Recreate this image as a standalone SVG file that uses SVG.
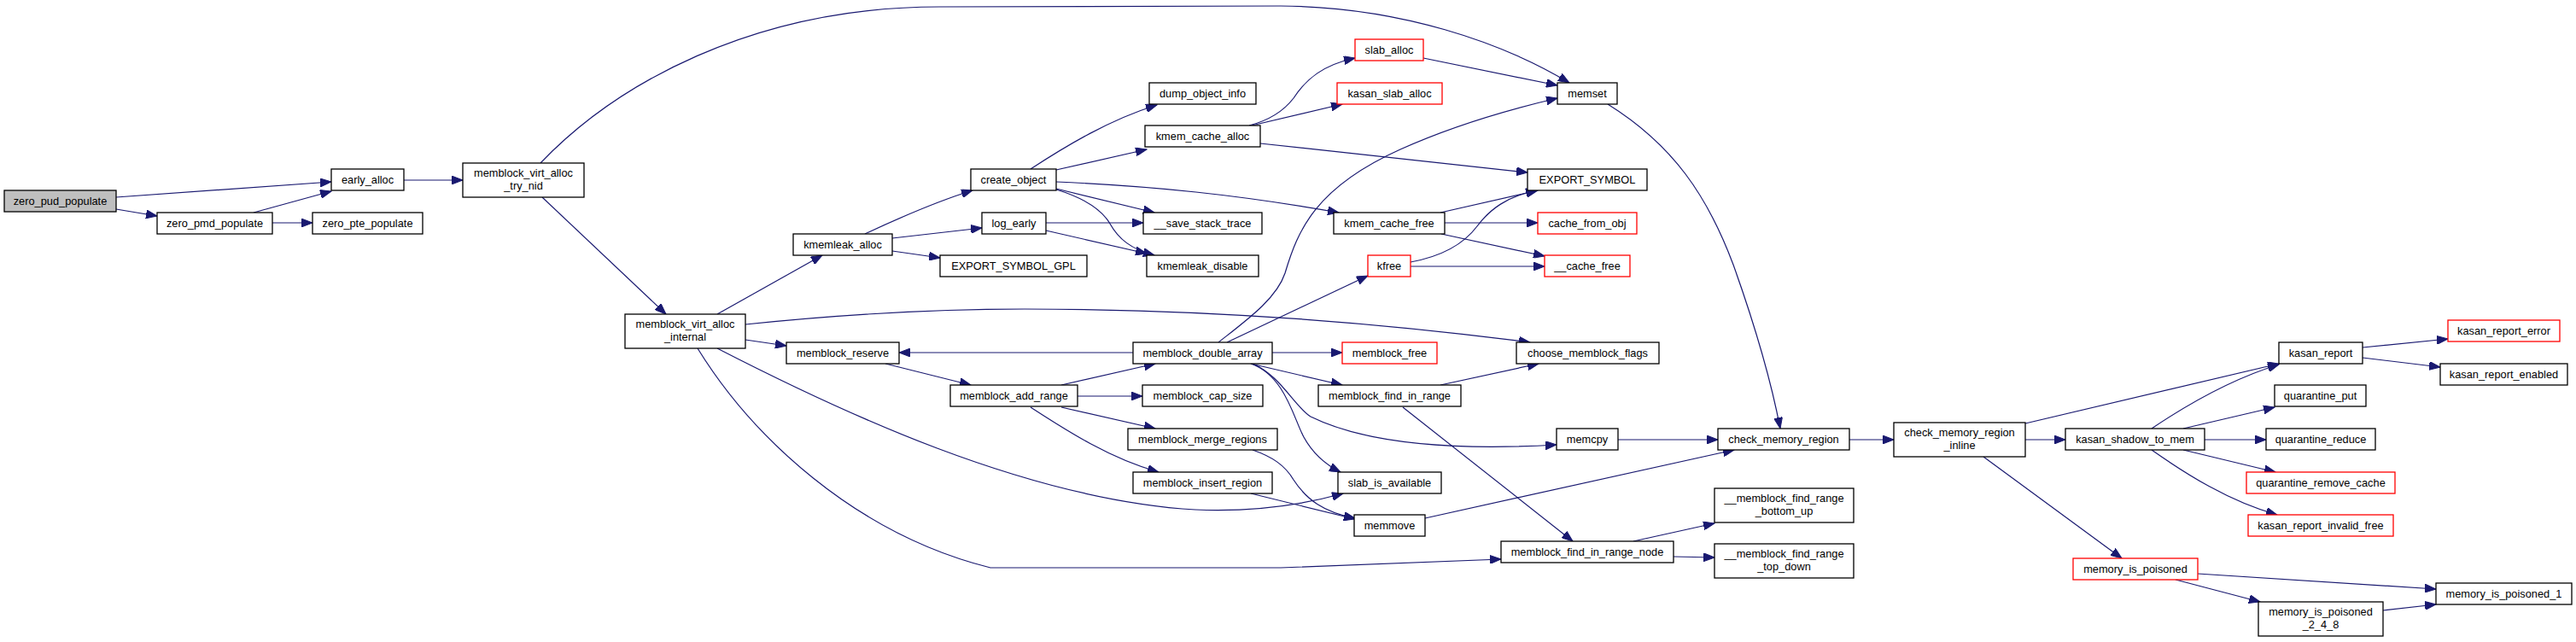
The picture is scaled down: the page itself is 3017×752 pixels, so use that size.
<svg xmlns="http://www.w3.org/2000/svg" width="3017" height="752" viewBox="0 0 3017 752">
<style>
.nd rect{fill:#ffffff;stroke:#000000;stroke-width:1.3}
.nd.red rect{stroke:#ff0000}
.nd.root rect{fill:#bfbfbf}
.nd text{font-family:"Liberation Sans",Arial,Helvetica,sans-serif;font-size:12.8px;text-anchor:middle;fill:#000000}
.ed path{fill:none;stroke:#191970;stroke-width:1.2;marker-end:url(#ah)}
</style>
<defs>
<marker id="ah" markerUnits="userSpaceOnUse" markerWidth="14" markerHeight="10" refX="13" refY="5" orient="auto">
<path d="M0,0 L13,5 L0,10 z" fill="#191970" stroke="#191970" stroke-width="1"/>
</marker>
</defs>
<rect width="3017" height="752" fill="#ffffff"/>
<g id="edges" class="ed">
<path d="M136,231 L388,213"/>
<path d="M136,245 L184,253"/>
<path d="M297,249 L388,224"/>
<path d="M319,261 L366,261"/>
<path d="M473,211 L542,211"/>
<path d="M633,191 C720,100 880,8 1100,8 L1500,7 C1640,8 1760,50 1838,97"/>
<path d="M635,231 L780,368"/>
<path d="M840,368 L963,299"/>
<path d="M873,380 C950,372 1060,362 1200,362 C1400,362 1600,376 1792,401"/>
<path d="M873,398 L921,405"/>
<path d="M840,408 C980,480 1200,585 1400,597 C1470,600 1530,590 1573,578"/>
<path d="M817,408 C880,510 1000,625 1160,665 L1500,665 L1758,655"/>
<path d="M1013,274 C1060,252 1100,235 1139,223"/>
<path d="M1045,279 L1150,267"/>
<path d="M1045,294 L1101,302"/>
<path d="M1207,198 C1250,170 1300,140 1355,123"/>
<path d="M1237,199 L1343,175"/>
<path d="M1237,213 C1350,218 1450,228 1568,249"/>
<path d="M1237,221 L1352,249"/>
<path d="M1237,222 C1270,232 1290,245 1300,262 C1310,280 1325,292 1352,299"/>
<path d="M1225,261 L1339,261"/>
<path d="M1225,270 L1343,297"/>
<path d="M1463,147 C1490,140 1505,128 1515,115 C1530,92 1550,76 1587,68"/>
<path d="M1466,147 L1572,122"/>
<path d="M1476,168 L1789,202"/>
<path d="M1667,68 L1824,100"/>
<path d="M1883,122 C1960,170 2000,230 2030,310 C2055,380 2075,450 2085,502"/>
<path d="M1037,426 L1137,451"/>
<path d="M1327,413 L1053,413"/>
<path d="M1243,451 L1353,426"/>
<path d="M1262,464 L1338,464"/>
<path d="M1243,477 L1353,502"/>
<path d="M1207,477 C1250,505 1300,537 1357,553"/>
<path d="M1427,401 C1460,375 1495,350 1505,320 C1520,270 1540,220 1640,175 C1700,148 1760,130 1824,115"/>
<path d="M1437,401 L1602,323"/>
<path d="M1490,413 L1572,413"/>
<path d="M1465,426 L1572,451"/>
<path d="M1467,426 C1500,440 1515,475 1535,488 C1600,520 1700,528 1823,521"/>
<path d="M1465,426 C1505,440 1515,490 1527,512 C1538,532 1552,544 1570,553"/>
<path d="M1467,527 C1490,535 1505,545 1515,562 C1530,585 1550,600 1587,607"/>
<path d="M1465,578 L1587,608"/>
<path d="M1687,451 L1802,426"/>
<path d="M1643,477 L1842,634"/>
<path d="M1895,515 L2012,515"/>
<path d="M1669,607 L2031,527"/>
<path d="M1913,634 L2008,613"/>
<path d="M1960,652 L2008,653"/>
<path d="M1687,249 L1801,223"/>
<path d="M1692,261 L1801,261"/>
<path d="M1688,274 L1809,300"/>
<path d="M1652,307 C1690,300 1715,285 1730,265 C1745,245 1765,230 1800,223"/>
<path d="M1652,312 L1809,312"/>
<path d="M2166,515 L2218,515"/>
<path d="M2372,496 L2669,426"/>
<path d="M2372,515 L2419,515"/>
<path d="M2323,535 L2485,654"/>
<path d="M2520,502 C2560,475 2610,445 2669,427"/>
<path d="M2557,502 L2664,477"/>
<path d="M2582,515 L2654,515"/>
<path d="M2557,527 L2665,553"/>
<path d="M2520,527 C2560,555 2610,587 2667,603"/>
<path d="M2767,407 L2867,397"/>
<path d="M2767,419 L2858,430"/>
<path d="M2574,672 L2853,690"/>
<path d="M2548,679 L2647,705"/>
<path d="M2791,715 L2853,708"/>
</g>
<g id="node-zero_pud_populate" class="nd root"><rect x="5" y="223" width="131" height="25"/><text x="70.5" y="240">zero_pud_populate</text></g>
<g id="node-early_alloc" class="nd"><rect x="388" y="198" width="85" height="25"/><text x="430.5" y="215">early_alloc</text></g>
<g id="node-zero_pmd_populate" class="nd"><rect x="184" y="249" width="135" height="25"/><text x="251.5" y="266">zero_pmd_populate</text></g>
<g id="node-zero_pte_populate" class="nd"><rect x="366" y="249" width="129" height="25"/><text x="430.5" y="266">zero_pte_populate</text></g>
<g id="node-memblock_virt_alloc_try_nid" class="nd"><rect x="542" y="191" width="142" height="40"/><text x="613" y="207">memblock_virt_alloc</text><text x="613" y="222">_try_nid</text></g>
<g id="node-memset" class="nd"><rect x="1824" y="97" width="70" height="25"/><text x="1859" y="114">memset</text></g>
<g id="node-memblock_virt_alloc_internal" class="nd"><rect x="732" y="368" width="141" height="40"/><text x="802.5" y="384">memblock_virt_alloc</text><text x="802.5" y="399">_internal</text></g>
<g id="node-kmemleak_alloc" class="nd"><rect x="929" y="274" width="116" height="25"/><text x="987" y="291">kmemleak_alloc</text></g>
<g id="node-memblock_reserve" class="nd"><rect x="921" y="401" width="132" height="25"/><text x="987" y="418">memblock_reserve</text></g>
<g id="node-create_object" class="nd"><rect x="1137" y="198" width="100" height="25"/><text x="1187" y="215">create_object</text></g>
<g id="node-log_early" class="nd"><rect x="1150" y="249" width="75" height="25"/><text x="1187.5" y="266">log_early</text></g>
<g id="node-EXPORT_SYMBOL_GPL" class="nd"><rect x="1101" y="299" width="172" height="25"/><text x="1187" y="316">EXPORT_SYMBOL_GPL</text></g>
<g id="node-dump_object_info" class="nd"><rect x="1346" y="97" width="125" height="25"/><text x="1408.5" y="114">dump_object_info</text></g>
<g id="node-kmem_cache_alloc" class="nd"><rect x="1341" y="147" width="135" height="25"/><text x="1408.5" y="164">kmem_cache_alloc</text></g>
<g id="node-__save_stack_trace" class="nd"><rect x="1339" y="249" width="139" height="25"/><text x="1408.5" y="266">__save_stack_trace</text></g>
<g id="node-kmemleak_disable" class="nd"><rect x="1343" y="299" width="131" height="25"/><text x="1408.5" y="316">kmemleak_disable</text></g>
<g id="node-kmem_cache_free" class="nd"><rect x="1562" y="249" width="130" height="25"/><text x="1627" y="266">kmem_cache_free</text></g>
<g id="node-slab_alloc" class="nd red"><rect x="1587" y="46" width="80" height="25"/><text x="1627" y="63">slab_alloc</text></g>
<g id="node-kasan_slab_alloc" class="nd red"><rect x="1566" y="97" width="123" height="25"/><text x="1627.5" y="114">kasan_slab_alloc</text></g>
<g id="node-EXPORT_SYMBOL" class="nd"><rect x="1789" y="198" width="140" height="25"/><text x="1859" y="215">EXPORT_SYMBOL</text></g>
<g id="node-cache_from_obj" class="nd red"><rect x="1801" y="249" width="116" height="25"/><text x="1859" y="266">cache_from_obj</text></g>
<g id="node-__cache_free" class="nd red"><rect x="1809" y="299" width="100" height="25"/><text x="1859" y="316">__cache_free</text></g>
<g id="node-kfree" class="nd red"><rect x="1602" y="299" width="50" height="25"/><text x="1627" y="316">kfree</text></g>
<g id="node-memblock_double_array" class="nd"><rect x="1327" y="401" width="163" height="25"/><text x="1408.5" y="418">memblock_double_array</text></g>
<g id="node-memblock_add_range" class="nd"><rect x="1113" y="451" width="149" height="25"/><text x="1187.5" y="468">memblock_add_range</text></g>
<g id="node-memblock_cap_size" class="nd"><rect x="1338" y="451" width="141" height="25"/><text x="1408.5" y="468">memblock_cap_size</text></g>
<g id="node-memblock_merge_regions" class="nd"><rect x="1321" y="502" width="175" height="25"/><text x="1408.5" y="519">memblock_merge_regions</text></g>
<g id="node-memblock_insert_region" class="nd"><rect x="1327" y="553" width="163" height="25"/><text x="1408.5" y="570">memblock_insert_region</text></g>
<g id="node-memblock_free" class="nd red"><rect x="1572" y="401" width="111" height="25"/><text x="1627.5" y="418">memblock_free</text></g>
<g id="node-choose_memblock_flags" class="nd"><rect x="1776" y="401" width="167" height="25"/><text x="1859.5" y="418">choose_memblock_flags</text></g>
<g id="node-memblock_find_in_range" class="nd"><rect x="1544" y="451" width="167" height="25"/><text x="1627.5" y="468">memblock_find_in_range</text></g>
<g id="node-memcpy" class="nd"><rect x="1823" y="502" width="72" height="25"/><text x="1859" y="519">memcpy</text></g>
<g id="node-slab_is_available" class="nd"><rect x="1567" y="553" width="121" height="25"/><text x="1627.5" y="570">slab_is_available</text></g>
<g id="node-memmove" class="nd"><rect x="1586" y="603" width="83" height="25"/><text x="1627.5" y="620">memmove</text></g>
<g id="node-memblock_find_in_range_node" class="nd"><rect x="1758" y="634" width="202" height="25"/><text x="1859" y="651">memblock_find_in_range_node</text></g>
<g id="node-check_memory_region" class="nd"><rect x="2012" y="502" width="154" height="25"/><text x="2089" y="519">check_memory_region</text></g>
<g id="node-__memblock_find_range_bottom_up" class="nd"><rect x="2008" y="572" width="163" height="40"/><text x="2089.5" y="588">__memblock_find_range</text><text x="2089.5" y="603">_bottom_up</text></g>
<g id="node-__memblock_find_range_top_down" class="nd"><rect x="2008" y="637" width="163" height="40"/><text x="2089.5" y="653">__memblock_find_range</text><text x="2089.5" y="668">_top_down</text></g>
<g id="node-check_memory_region_inline" class="nd"><rect x="2218" y="495" width="154" height="40"/><text x="2295" y="511">check_memory_region</text><text x="2295" y="526">_inline</text></g>
<g id="node-kasan_shadow_to_mem" class="nd"><rect x="2419" y="502" width="163" height="25"/><text x="2500.5" y="519">kasan_shadow_to_mem</text></g>
<g id="node-memory_is_poisoned" class="nd red"><rect x="2428" y="654" width="146" height="25"/><text x="2501" y="671">memory_is_poisoned</text></g>
<g id="node-kasan_report" class="nd"><rect x="2669" y="401" width="98" height="25"/><text x="2718" y="418">kasan_report</text></g>
<g id="node-kasan_report_error" class="nd red"><rect x="2867" y="375" width="131" height="25"/><text x="2932.5" y="392">kasan_report_error</text></g>
<g id="node-kasan_report_enabled" class="nd"><rect x="2858" y="426" width="149" height="25"/><text x="2932.5" y="443">kasan_report_enabled</text></g>
<g id="node-quarantine_put" class="nd"><rect x="2664" y="451" width="107" height="25"/><text x="2717.5" y="468">quarantine_put</text></g>
<g id="node-quarantine_reduce" class="nd"><rect x="2654" y="502" width="128" height="25"/><text x="2718" y="519">quarantine_reduce</text></g>
<g id="node-quarantine_remove_cache" class="nd red"><rect x="2631" y="553" width="174" height="25"/><text x="2718" y="570">quarantine_remove_cache</text></g>
<g id="node-kasan_report_invalid_free" class="nd red"><rect x="2633" y="603" width="170" height="25"/><text x="2718" y="620">kasan_report_invalid_free</text></g>
<g id="node-memory_is_poisoned_1" class="nd"><rect x="2853" y="683" width="159" height="25"/><text x="2932.5" y="700">memory_is_poisoned_1</text></g>
<g id="node-memory_is_poisoned_2_4_8" class="nd"><rect x="2645" y="705" width="146" height="40"/><text x="2718" y="721">memory_is_poisoned</text><text x="2718" y="736">_2_4_8</text></g>
</svg>
